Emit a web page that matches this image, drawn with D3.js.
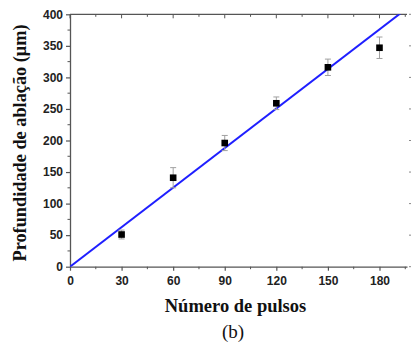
<!DOCTYPE html>
<html>
<head>
<meta charset="utf-8">
<script src="https://cdn.jsdelivr.net/npm/d3@7"></script>
<style>
  body { margin: 0; background: #fff; }
  svg { display: block; }
</style>
</head>
<body>
<div id="chart"></div>
<script>
const pulses = [30, 60, 90, 120, 150, 180];
const depth = [51, 141, 196, 259, 316, 347];
const depthErr = [7, 16, 12, 10, 13, 17];
const fitX = [0, 196];
const fitY = [0, 409.5];
const xTicks = [0, 30, 60, 90, 120, 150, 180];
const yTicks = [0, 50, 100, 150, 200, 250, 300, 350, 400];

const W = 411, H = 345;
const plotLeft = 70, plotRight = 407, plotTop = 14.3, plotBottom = 266.7;

const svg = d3.select("#chart").append("svg")
    .attr("width", W)
    .attr("height", H);

const x = d3.scaleLinear().domain([0, 196]).range([plotLeft, plotRight]);
const y = d3.scaleLinear().domain([0, 400]).range([plotBottom, plotTop]);

const axisColor = "#555";
const labelFont = "'Liberation Sans', Arial, sans-serif";
const titleFont = "'Liberation Serif', 'Times New Roman', serif";

// minor ticks halfway between majors
const xMinor = d3.range(15, 196, 30);
const yMinor = d3.range(25, 400, 50);

// bottom axis
let gx = svg.append("g")
    .attr("transform", "translate(0," + plotBottom + ")")
    .call(d3.axisBottom(x).tickValues(xTicks).tickSize(4).tickSizeOuter(0));
gx.select(".domain").attr("stroke", axisColor).attr("stroke-width", 1.3);
gx.selectAll(".tick line").attr("stroke", axisColor).attr("stroke-width", 1.2);
gx.selectAll("text")
    .attr("font-family", labelFont)
    .attr("font-weight", "bold")
    .attr("font-size", 12)
    .attr("fill", "#222")
    .attr("dy", "0.95em");

svg.append("g").selectAll("line")
    .data(xMinor).enter().append("line")
    .attr("x1", d => x(d)).attr("x2", d => x(d))
    .attr("y1", plotBottom).attr("y2", plotBottom + 2.5)
    .attr("stroke", axisColor).attr("stroke-width", 1);

// left axis
let gy = svg.append("g")
    .attr("transform", "translate(" + plotLeft + ",0)")
    .call(d3.axisLeft(y).tickValues(yTicks).tickSize(4).tickSizeOuter(0));
gy.select(".domain").attr("stroke", axisColor).attr("stroke-width", 1.3);
gy.selectAll(".tick line").attr("stroke", axisColor).attr("stroke-width", 1.2);
gy.selectAll("text")
    .attr("font-family", labelFont)
    .attr("font-weight", "bold")
    .attr("font-size", 12)
    .attr("fill", "#222")
    .attr("x", -7);

svg.append("g").selectAll("line")
    .data(yMinor).enter().append("line")
    .attr("x1", plotLeft - 2.5).attr("x2", plotLeft)
    .attr("y1", d => y(d)).attr("y2", d => y(d))
    .attr("stroke", axisColor).attr("stroke-width", 1);

// top frame with inward ticks
svg.append("line")
    .attr("x1", plotLeft).attr("x2", plotRight)
    .attr("y1", plotTop).attr("y2", plotTop)
    .attr("stroke", axisColor).attr("stroke-width", 1.3);
svg.append("g").selectAll("line")
    .data(xTicks.concat(xMinor)).enter().append("line")
    .attr("x1", d => x(d)).attr("x2", d => x(d))
    .attr("y1", plotTop).attr("y2", d => plotTop + (d % 30 === 0 ? 4 : 2.5))
    .attr("stroke", axisColor).attr("stroke-width", 1);

// right side ticks (frame itself is cut off at the image edge)
svg.append("g").selectAll("line")
    .data(yTicks).enter().append("line")
    .attr("x1", 409).attr("x2", 412)
    .attr("y1", d => y(d)).attr("y2", d => y(d))
    .attr("stroke", "#888").attr("stroke-width", 1);

// clip for fit line
svg.append("clipPath").attr("id", "plotClip")
    .append("rect")
    .attr("x", plotLeft).attr("y", plotTop)
    .attr("width", plotRight - plotLeft).attr("height", plotBottom - plotTop);

// linear fit
const fitData = fitX.map((d, i) => [d, fitY[i]]);
svg.append("path")
    .datum(fitData)
    .attr("clip-path", "url(#plotClip)")
    .attr("fill", "none")
    .attr("stroke", "#1f1fff")
    .attr("stroke-width", 2)
    .attr("d", d3.line().x(d => x(d[0])).y(d => y(d[1])));

// error bars
const pts = pulses.map((p, i) => ({p: p, v: depth[i], e: depthErr[i]}));
let err = svg.append("g").attr("stroke", "#a0a0a0").attr("stroke-width", 1);
err.selectAll(".ev").data(pts).enter().append("line")
    .attr("x1", d => x(d.p)).attr("x2", d => x(d.p))
    .attr("y1", d => y(d.v - d.e)).attr("y2", d => y(d.v + d.e));
err.selectAll(".et").data(pts).enter().append("line")
    .attr("x1", d => x(d.p) - 3).attr("x2", d => x(d.p) + 3)
    .attr("y1", d => y(d.v + d.e)).attr("y2", d => y(d.v + d.e));
err.selectAll(".eb").data(pts).enter().append("line")
    .attr("x1", d => x(d.p) - 3).attr("x2", d => x(d.p) + 3)
    .attr("y1", d => y(d.v - d.e)).attr("y2", d => y(d.v - d.e));

// markers
svg.append("g").selectAll("rect")
    .data(pts).enter().append("rect")
    .attr("x", d => x(d.p) - 3.3)
    .attr("y", d => y(d.v) - 3.3)
    .attr("width", 6.6).attr("height", 6.6)
    .attr("fill", "#000");

// axis titles
svg.append("text")
    .attr("x", 235.5)
    .attr("y", 312)
    .attr("text-anchor", "middle")
    .attr("font-family", titleFont)
    .attr("font-weight", "bold")
    .attr("font-size", 18.5)
    .attr("fill", "#111")
    .text("Número de pulsos");

svg.append("text")
    .attr("x", 233)
    .attr("y", 338)
    .attr("text-anchor", "middle")
    .attr("font-family", titleFont)
    .attr("font-size", 19)
    .attr("fill", "#111")
    .text("(b)");

svg.append("text")
    .attr("transform", "translate(26," + 143 + ") rotate(-90)")
    .attr("text-anchor", "middle")
    .attr("font-family", titleFont)
    .attr("font-weight", "bold")
    .attr("font-size", 18.3)
    .attr("fill", "#111")
    .text("Profundidade de ablação (μm)");
</script>
</body>
</html>
